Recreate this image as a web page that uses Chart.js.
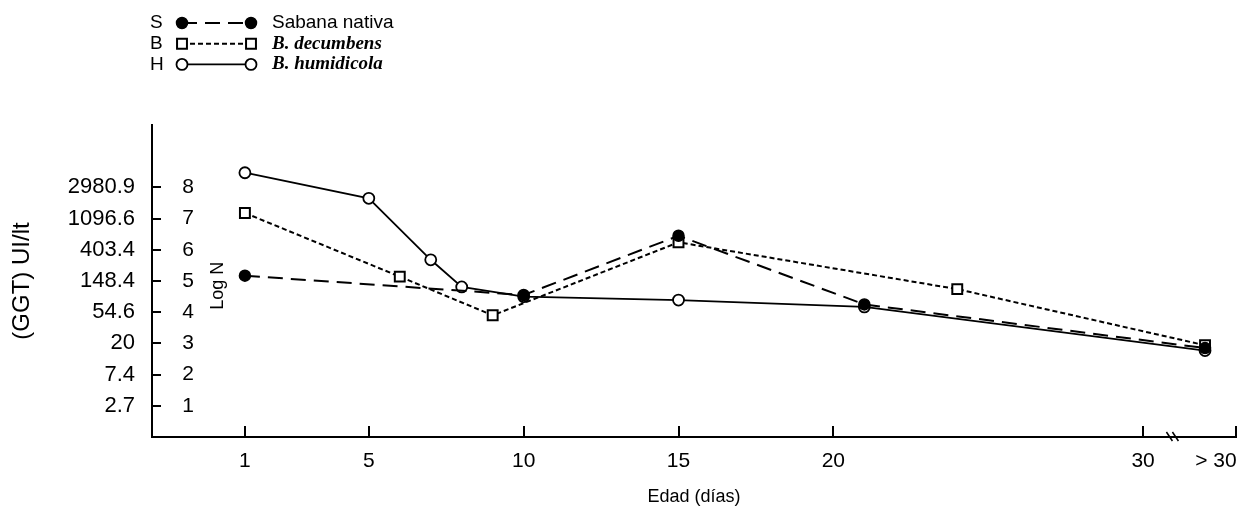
<!DOCTYPE html>
<html>
<head>
<meta charset="utf-8">
<script src="https://cdn.jsdelivr.net/npm/chart.js@4.4.1/dist/chart.umd.min.js"></script>
<style>
  html, body { margin: 0; padding: 0; background: #fff; }
</style>
</head>
<body>
<canvas id="ggtChart" width="1245" height="524"></canvas>
<script>
// series: code letter, name, days and Log N values
const seriesCodes = ['S', 'B', 'H'];
const seriesNames = ['Sabana nativa', 'B. decumbens', 'B. humidicola'];

const daysS = [1, 10, 15, 21, 32];
const logS = [5.17, 4.55, 6.45, 4.25, 2.85];

const daysB = [1, 6, 9, 15, 24, 32];
const logB = [7.18, 5.14, 3.90, 6.24, 4.74, 2.94];

const daysH = [1, 5, 7, 8, 10, 15, 21, 32];
const logH = [8.47, 7.65, 5.68, 4.81, 4.50, 4.39, 4.17, 2.77];

// axis ticks
const xLabelValues = [1, 5, 10, 15, 20, 30, 32.35];
const xLabels = ['1', '5', '10', '15', '20', '30', '> 30'];
const xMarkValues = [1, 5, 10, 15, 20, 30, 33];
const yTickValues = [1, 2, 3, 4, 5, 6, 7, 8];
const ggtLabels = ['2.7', '7.4', '20', '54.6', '148.4', '403.4', '1096.6', '2980.9'];
const logNLabels = ['1', '2', '3', '4', '5', '6', '7', '8'];

const SANS = '"Liberation Sans", Arial, sans-serif';
const SERIF = '"Liberation Serif", "Times New Roman", serif';

function toPoints(xs, ys) {
    return xs.map((x, i) => ({ x: x, y: ys[i] }));
}

// inward tick marks, Log N labels, axis break and the legend block
const extrasPlugin = {
    id: 'extras',
    afterDraw(chart) {
        const ctx = chart.ctx;
        const xs = chart.scales.x;
        const ys = chart.scales.y;
        const axisX = chart.chartArea.left;
        const axisY = chart.chartArea.bottom;

        ctx.save();
        ctx.strokeStyle = '#000';
        ctx.lineWidth = 2;
        ctx.setLineDash([]);

        yTickValues.forEach(v => {
            const py = Math.round(ys.getPixelForValue(v));
            ctx.beginPath();
            ctx.moveTo(axisX, py);
            ctx.lineTo(axisX + 9, py);
            ctx.stroke();
        });
        xMarkValues.forEach(v => {
            const px = Math.round(xs.getPixelForValue(v));
            ctx.beginPath();
            ctx.moveTo(px, axisY);
            ctx.lineTo(px, axisY - 11);
            ctx.stroke();
        });

        // axis break between 30 and > 30
        const bx = xs.getPixelForValue(30.85);
        ctx.lineWidth = 1.5;
        [0, 6].forEach(dx => {
            ctx.beginPath();
            ctx.moveTo(bx + dx - 3, axisY - 5);
            ctx.lineTo(bx + dx + 3, axisY + 4);
            ctx.stroke();
        });

        // Log N numbers inside the plot
        ctx.fillStyle = '#000';
        ctx.font = '21px ' + SANS;
        ctx.textAlign = 'center';
        ctx.textBaseline = 'middle';
        yTickValues.forEach((v, i) => {
            ctx.fillText(logNLabels[i], axisX + 36, ys.getPixelForValue(v));
        });

        ctx.save();
        ctx.translate(axisX + 66, ys.getPixelForValue(4.85));
        ctx.rotate(-Math.PI / 2);
        ctx.font = '18px ' + SANS;
        ctx.fillText('Log N', 0, 0);
        ctx.restore();

        // legend
        chart.data.datasets.forEach((ds, i) => {
            const rowY = 23 + i * 20.7;
            ctx.fillStyle = '#000';
            ctx.textAlign = 'left';
            ctx.textBaseline = 'middle';
            ctx.font = '19px ' + SANS;
            ctx.fillText(seriesCodes[i], 150, rowY);

            ctx.strokeStyle = ds.borderColor;
            ctx.lineWidth = ds.borderWidth;
            ctx.setLineDash(ds.borderDash || []);
            ctx.beginPath();
            ctx.moveTo(182, rowY);
            ctx.lineTo(251, rowY);
            ctx.stroke();
            ctx.setLineDash([]);

            [182, 251].forEach(px => {
                ctx.fillStyle = ds.pointBackgroundColor;
                ctx.strokeStyle = ds.pointBorderColor;
                ctx.lineWidth = ds.pointBorderWidth;
                Chart.helpers.drawPoint(ctx, {
                    pointStyle: ds.pointStyle,
                    radius: ds.pointRadius,
                    rotation: 0,
                    borderWidth: ds.pointBorderWidth
                }, px, rowY);
            });

            ctx.fillStyle = '#000';
            ctx.font = i === 0 ? '19px ' + SANS : 'italic bold 19px ' + SERIF;
            ctx.fillText(seriesNames[i], 272, rowY);
        });
        ctx.restore();
    }
};

const ctx = document.getElementById('ggtChart').getContext('2d');

const ggtChart = new Chart(ctx, {
    type: 'line',
    data: {
        datasets: [
            {
                label: seriesNames[0],
                data: toPoints(daysS, logS),
                borderColor: '#000',
                borderWidth: 2,
                borderDash: [15, 8],
                pointStyle: 'circle',
                pointRadius: 5.5,
                pointBackgroundColor: '#000',
                pointBorderColor: '#000',
                pointBorderWidth: 1.5
            },
            {
                label: seriesNames[1],
                data: toPoints(daysB, logB),
                borderColor: '#000',
                borderWidth: 2,
                borderDash: [5, 3],
                pointStyle: 'rect',
                pointRadius: 7,
                pointBackgroundColor: '#fff',
                pointBorderColor: '#000',
                pointBorderWidth: 2
            },
            {
                label: seriesNames[2],
                data: toPoints(daysH, logH),
                borderColor: '#000',
                borderWidth: 1.8,
                pointStyle: 'circle',
                pointRadius: 5.5,
                pointBackgroundColor: '#fff',
                pointBorderColor: '#000',
                pointBorderWidth: 1.8
            }
        ]
    },
    options: {
        responsive: false,
        animation: false,
        events: [],
        layout: { padding: { top: 125, right: -3, bottom: 0, left: 0 } },
        plugins: {
            legend: { display: false },
            tooltip: { enabled: false }
        },
        scales: {
            x: {
                type: 'linear',
                min: -2,
                max: 33,
                afterBuildTicks: scale => {
                    scale.ticks = xLabelValues.map(v => ({ value: v }));
                },
                afterFit: scale => { scale.height = 87; },
                grid: { display: false },
                border: { display: true, color: '#000', width: 2 },
                ticks: {
                    autoSkip: false,
                    maxRotation: 0,
                    padding: 4,
                    color: '#000',
                    font: { family: SANS, size: 21 },
                    callback: (value, index) => xLabels[index]
                },
                title: {
                    display: true,
                    text: 'Edad (días)',
                    color: '#000',
                    font: { family: SANS, size: 18 },
                    padding: { top: 0, bottom: 16 }
                }
            },
            y: {
                type: 'linear',
                min: 0,
                max: 10,
                afterBuildTicks: scale => {
                    scale.ticks = yTickValues.map(v => ({ value: v }));
                },
                afterFit: scale => { scale.width = 152; },
                grid: { display: false },
                border: { display: true, color: '#000', width: 2 },
                ticks: {
                    padding: 9,
                    color: '#000',
                    font: { family: SANS, size: 22 },
                    callback: (value, index) => ggtLabels[index]
                },
                title: {
                    display: true,
                    text: '(GGT) UI/lt',
                    color: '#000',
                    font: { family: SANS, size: 24 },
                    padding: { top: 8, bottom: 0 }
                }
            }
        }
    },
    plugins: [extrasPlugin]
});
</script>
</body>
</html>
